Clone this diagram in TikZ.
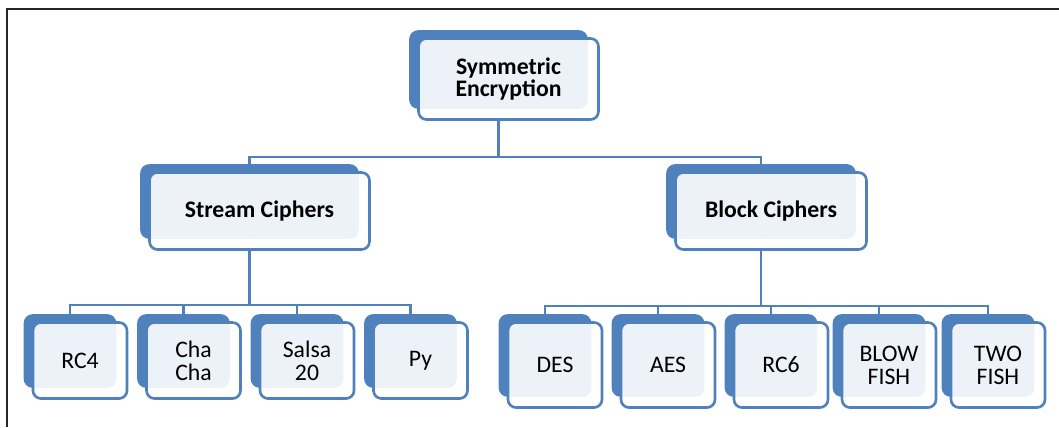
\documentclass[tikz,border=0pt]{standalone}
\usepackage{fontspec}
\setmainfont{Carlito}
\usetikzlibrary{backgrounds}
\definecolor{cipherblue}{HTML}{4F81BD}

\def\ux{0.02cm}
\def\uy{-0.02cm}

\begin{document}
\begin{tikzpicture}[x=\ux,y=\uy, font=\fontsize{13.5}{13}\selectfont,
    front/.style={draw=cipherblue, line width=1.5pt, rounded corners=4.5pt,
      fill=white, fill opacity=0.9, text opacity=1, align=center, inner sep=0pt},
    head/.style={front, font=\fontsize{13.5}{12.5}\selectfont\bfseries},
    leafbox/.style={front, minimum width=1.88cm, minimum height=1.52cm},
    tallleaf/.style={front, minimum width=1.88cm, minimum height=1.7cm},
    conn/.style={draw=cipherblue, line width=1.4pt}]
  \useasboundingbox (0,0) rectangle (1059,427);
  \draw[black!85, line width=0.6pt] (7,427) -- (7,9) -- (1059,9);

  % the three headings
  \node[head, minimum width=3.6cm, minimum height=1.62cm] (sym) at (508.5,79) {Symmetric\\Encryption};
  \node[head, minimum width=4.4cm, minimum height=1.54cm] (stream) at (259.5,211) {Stream Ciphers};
  \node[head, minimum width=3.82cm, minimum height=1.54cm] (block) at (771,211) {Block Ciphers};

  % leaves
  \foreach \n/\cx/\txt in {rc4/80/RC4, chacha/193.5/Cha\\Cha, salsa/307/Salsa\\20, py/420.5/Py}
    \node[leafbox] (\n) at (\cx,360.5) {\txt};
  \foreach \n/\cx/\txt in {des/555/DES, aes/668/AES, rcsix/781/RC6, blow/889/BLOW\\FISH, two/998/TWO\\FISH}
    \node[tallleaf] (\n) at (\cx,365) {\txt};

  \begin{scope}[on background layer]
    \foreach \n in {sym,stream,block,rc4,chacha,salsa,py,des,aes,rcsix,blow,two}
      \fill[cipherblue, rounded corners=5pt] ([shift={(-8,-7)}]\n.north west) rectangle ([shift={(-12,-12)}]\n.south east);

    \foreach \n in {stream,block}
      \draw[conn] ([shift={(-10,0)}]sym.south) -- ++(0,36) -| ([shift={(-10,0)}]\n.north);
    \foreach \n in {rc4,chacha,salsa,py}
      \draw[conn] ([shift={(-10,0)}]stream.south) -- ++(0,54) -| ([shift={(-10,0)}]\n.north);
    \foreach \n in {des,aes,rcsix,blow,two}
      \draw[conn] ([shift={(-10,0)}]block.south) -- ++(0,55) -| ([shift={(-10,0)}]\n.north);
  \end{scope}
\end{tikzpicture}
\end{document}
